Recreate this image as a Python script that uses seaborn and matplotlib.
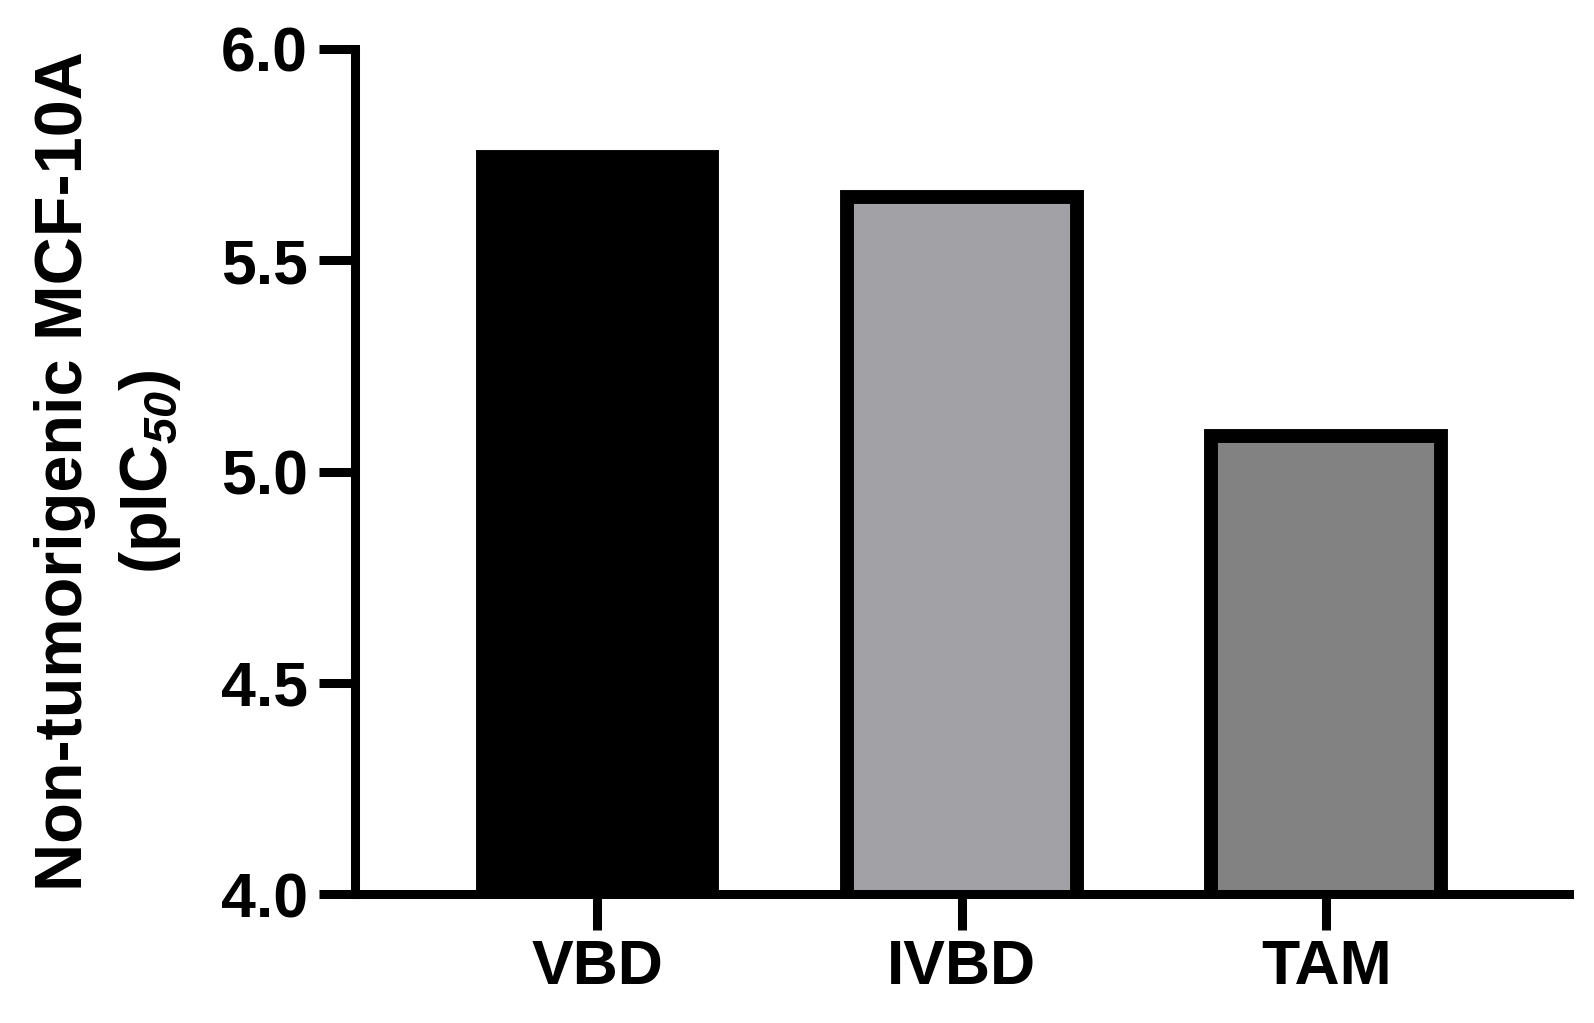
import matplotlib
matplotlib.use("Agg")
import matplotlib.pyplot as plt
import seaborn as sns
import pandas as pd

categories = ["VBD", "IVBD", "TAM"]
pic50 = [5.745, 5.65, 5.085]
bar_colors = ["#000000", "#A2A1A6", "#828282"]
y_ticks = [4.0, 4.5, 5.0, 5.5, 6.0]
y_label = "Non-tumorigenic MCF-10A\n(pIC$_{\\mathbf{50}}$)"

sns.set_style("ticks")
plt.rcParams["font.family"] = ["Liberation Sans", "DejaVu Sans"]
plt.rcParams["font.weight"] = "bold"
plt.rcParams["text.color"] = "black"
plt.rcParams["axes.labelcolor"] = "black"
plt.rcParams["xtick.color"] = "black"
plt.rcParams["ytick.color"] = "black"
plt.rcParams["mathtext.fontset"] = "custom"
plt.rcParams["mathtext.rm"] = "Liberation Sans:bold"
plt.rcParams["mathtext.it"] = "Liberation Sans:italic:bold"
plt.rcParams["mathtext.bf"] = "Liberation Sans:italic:bold"
plt.rcParams["mathtext.default"] = "bf"

df = pd.DataFrame({"cat": categories, "val": pic50})

fig = plt.figure(figsize=(15.94, 10.23), dpi=100)
ax = fig.add_axes([355 / 1594, (1023 - 894) / 1023, (1568.5 - 355) / 1594, (894 - 49) / 1023])

sns.barplot(data=df, x="cat", y="val", hue="cat", palette=bar_colors,
            order=categories, hue_order=categories, legend=False,
            width=0.63, edgecolor="black", linewidth=10, saturation=1, ax=ax)

ax.set_ylim(4.0, 6.0)
ax.set_xlim(-0.665, 2.665)
ax.set_yticks(y_ticks)
ax.set_yticklabels([f"{t:.1f}" for t in y_ticks])

for s in ["top", "right"]:
    ax.spines[s].set_visible(False)
for s in ["left", "bottom"]:
    ax.spines[s].set_linewidth(6.5)
    ax.spines[s].set_color("black")

ax.tick_params(axis="both", length=26, width=6.5, color="black",
               labelcolor="black", labelsize=45)
ax.tick_params(axis="y", pad=8)
ax.tick_params(axis="x", pad=6)
for lab in ax.get_xticklabels() + ax.get_yticklabels():
    lab.set_fontweight("bold")
    lab.set_color("black")

ax.set_xlabel("")
ax.set_ylabel(y_label, fontsize=48, fontweight="bold", linespacing=1.42,
              color="black")
ax.yaxis.set_label_coords(-0.142, 0.5)

fig.savefig("out.png", dpi=100)
